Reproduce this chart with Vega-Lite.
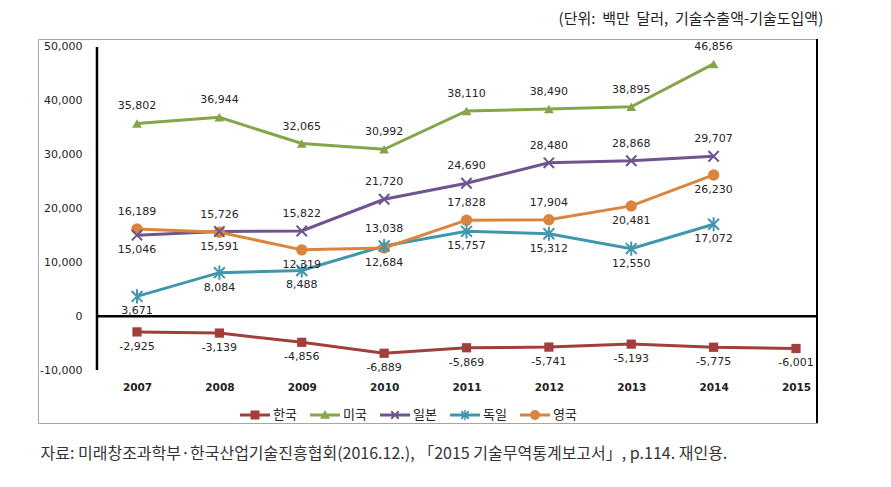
{
  "$schema": "https://vega.github.io/schema/vega-lite/v6.json",
  "width": 779,
  "height": 384,
  "autosize": {"type": "none"},
  "padding": {"left": 38, "top": 39, "right": 74, "bottom": 64},
  "config": {
    "view": {"stroke": "#A6A6A6", "strokeWidth": 1},
    "font": "DejaVu Sans",
    "locale": {"number": {"decimal": ".", "thousands": ",", "grouping": [3], "currency": ["", ""], "minus": "-"}}
  },
  "title": {
    "text": "(단위:\u00a0 백만\u00a0 달러,\u00a0 기술수출액-기술도입액)",
    "anchor": "end",
    "font": "Noto Sans CJK KR",
    "fontSize": 15,
    "fontWeight": "normal",
    "color": "#222222",
    "offset": 11,
    "dx": 5
  },
  "datasets": {
    "trade": [
      {"country": "한국", "year": 2007, "value": -2925},
      {"country": "한국", "year": 2008, "value": -3139},
      {"country": "한국", "year": 2009, "value": -4856},
      {"country": "한국", "year": 2010, "value": -6889},
      {"country": "한국", "year": 2011, "value": -5869},
      {"country": "한국", "year": 2012, "value": -5741},
      {"country": "한국", "year": 2013, "value": -5193},
      {"country": "한국", "year": 2014, "value": -5775},
      {"country": "한국", "year": 2015, "value": -6001},
      {"country": "미국", "year": 2007, "value": 35802},
      {"country": "미국", "year": 2008, "value": 36944},
      {"country": "미국", "year": 2009, "value": 32065},
      {"country": "미국", "year": 2010, "value": 30992},
      {"country": "미국", "year": 2011, "value": 38110},
      {"country": "미국", "year": 2012, "value": 38490},
      {"country": "미국", "year": 2013, "value": 38895},
      {"country": "미국", "year": 2014, "value": 46856},
      {"country": "일본", "year": 2007, "value": 15046},
      {"country": "일본", "year": 2008, "value": 15726},
      {"country": "일본", "year": 2009, "value": 15822},
      {"country": "일본", "year": 2010, "value": 21720},
      {"country": "일본", "year": 2011, "value": 24690},
      {"country": "일본", "year": 2012, "value": 28480},
      {"country": "일본", "year": 2013, "value": 28868},
      {"country": "일본", "year": 2014, "value": 29707},
      {"country": "독일", "year": 2007, "value": 3671},
      {"country": "독일", "year": 2008, "value": 8084},
      {"country": "독일", "year": 2009, "value": 8488},
      {"country": "독일", "year": 2010, "value": 13038},
      {"country": "독일", "year": 2011, "value": 15757},
      {"country": "독일", "year": 2012, "value": 15312},
      {"country": "독일", "year": 2013, "value": 12550},
      {"country": "독일", "year": 2014, "value": 17072},
      {"country": "영국", "year": 2007, "value": 16189},
      {"country": "영국", "year": 2008, "value": 15591},
      {"country": "영국", "year": 2009, "value": 12319},
      {"country": "영국", "year": 2010, "value": 12684},
      {"country": "영국", "year": 2011, "value": 17828},
      {"country": "영국", "year": 2012, "value": 17904},
      {"country": "영국", "year": 2013, "value": 20481},
      {"country": "영국", "year": 2014, "value": 26230}
    ]
  },
  "data": {"name": "trade"},
  "layer": [
    {
      "layer": [
        {
          "mark": {"type": "line", "strokeWidth": 3},
          "encoding": {
            "x": {
              "field": "year", "type": "quantitative",
              "scale": {"domain": [2005.798, 2015.255], "nice": false, "zero": false},
              "axis": {
                "values": [2007, 2008, 2009, 2010, 2011, 2012, 2013, 2014, 2015],
                "format": "d",
                "orient": "bottom",
                "domain": false,
                "ticks": false,
                "grid": false,
                "labelFont": "DejaVu Sans",
                "labelFontSize": 10.5,
                "labelFontWeight": "bold",
                "labelColor": "#222222",
                "labelBaseline": "top",
                "labelPadding": -41,
                "labelFlush": false,
                "labelOverlap": false,
                "title": "자료: 미래창조과학부·한국산업기술진흥협회(2016.12.), 「2015 기술무역통계보고서」, p.114. 재인용.",
                "titleFont": "Noto Sans CJK KR",
                "titleFontSize": 16,
                "titleFontWeight": "normal",
                "titleColor": "#333333",
                "titleAnchor": "start",
                "titleAlign": "left",
                "titleBaseline": "top",
                "titleX": 2,
                "titleY": 22
              }
            },
            "y": {
              "field": "value", "type": "quantitative",
              "scale": {"domain": [-19845, 51486], "nice": false, "zero": false},
              "axis": {
                "values": [-10000, 0, 10000, 20000, 30000, 40000, 50000],
                "format": ",d",
                "orient": "left",
                "domain": false,
                "ticks": false,
                "grid": false,
                "labelFont": "DejaVu Sans",
                "labelFontSize": 11,
                "labelColor": "#222222",
                "labelAlign": "right",
                "labelBaseline": "middle",
                "labelPadding": -44,
                "labelFlush": false,
                "labelOverlap": false,
                "title": null
              }
            },
            "color": {
              "field": "country", "type": "nominal",
              "scale": {"domain": ["한국", "미국", "일본", "독일", "영국"], "range": ["#A23E3C", "#86A44A", "#6F548F", "#3F97AE", "#DB843D"]},
              "legend": null
            }
          }
        },
        {
          "data": {"values": [{}]},
          "mark": {"type": "rule", "color": "#000000", "strokeWidth": 2.5},
          "encoding": {
            "x": {"datum": 2006.514, "type": "quantitative", "scale": {"domain": [2005.798, 2015.255], "nice": false, "zero": false}},
            "y": {"datum": -10000, "type": "quantitative", "scale": {"domain": [-19845, 51486], "nice": false, "zero": false}},
            "y2": {"datum": 50000}
          }
        },
        {
          "data": {"values": [{}]},
          "mark": {"type": "rule", "color": "#000000", "strokeWidth": 2.5},
          "encoding": {
            "x": {"datum": 2006.514, "type": "quantitative", "scale": {"domain": [2005.798, 2015.255], "nice": false, "zero": false}},
            "x2": {"datum": 2015.255},
            "y": {"datum": 0, "type": "quantitative", "scale": {"domain": [-19845, 51486], "nice": false, "zero": false}}
          }
        },
        {
          "data": {"values": [{}]},
          "mark": {"type": "rule", "color": "#000000", "strokeWidth": 2},
          "encoding": {
            "x": {"datum": 2015.255, "type": "quantitative", "scale": {"domain": [2005.798, 2015.255], "nice": false, "zero": false}},
            "y": {"datum": -19845, "type": "quantitative", "scale": {"domain": [-19845, 51486], "nice": false, "zero": false}},
            "y2": {"datum": 51486}
          }
        },
        {
          "transform": [{"filter": "datum.country === '한국' || datum.country === '미국' || datum.country === '영국'"}],
          "mark": {"type": "point", "filled": true, "opacity": 1},
          "encoding": {
            "x": {"field": "year", "type": "quantitative", "scale": {"domain": [2005.798, 2015.255], "nice": false, "zero": false}},
            "y": {"field": "value", "type": "quantitative", "scale": {"domain": [-19845, 51486], "nice": false, "zero": false}},
            "color": {
              "field": "country", "type": "nominal",
              "scale": {"domain": ["한국", "미국", "일본", "독일", "영국"], "range": ["#A23E3C", "#86A44A", "#6F548F", "#3F97AE", "#DB843D"]},
              "legend": null
            },
            "shape": {
              "field": "country", "type": "nominal",
              "scale": {"domain": ["한국", "미국", "일본", "독일", "영국"], "range": ["square", "triangle-up", "M-1,-1L1,1M-1,1L1,-1", "M-1,-1L1,1M-1,1L1,-1M0,-1.3V1.3", "circle"]},
              "legend": null
            },
            "size": {
              "field": "country", "type": "nominal",
              "scale": {"domain": ["한국", "미국", "일본", "독일", "영국"], "range": [85, 130, 81, 81, 121]},
              "legend": null
            }
          }
        },
        {
          "transform": [{"filter": "datum.country === '일본' || datum.country === '독일'"}],
          "mark": {"type": "point", "filled": false, "opacity": 1, "strokeWidth": 2},
          "encoding": {
            "x": {"field": "year", "type": "quantitative", "scale": {"domain": [2005.798, 2015.255], "nice": false, "zero": false}},
            "y": {"field": "value", "type": "quantitative", "scale": {"domain": [-19845, 51486], "nice": false, "zero": false}},
            "color": {
              "field": "country", "type": "nominal",
              "scale": {"domain": ["한국", "미국", "일본", "독일", "영국"], "range": ["#A23E3C", "#86A44A", "#6F548F", "#3F97AE", "#DB843D"]},
              "legend": null
            },
            "shape": {
              "field": "country", "type": "nominal",
              "scale": {"domain": ["한국", "미국", "일본", "독일", "영국"], "range": ["square", "triangle-up", "M-1,-1L1,1M-1,1L1,-1", "M-1,-1L1,1M-1,1L1,-1M0,-1.3V1.3", "circle"]},
              "legend": null
            },
            "size": {
              "field": "country", "type": "nominal",
              "scale": {"domain": ["한국", "미국", "일본", "독일", "영국"], "range": [85, 130, 81, 81, 121]},
              "legend": null
            }
          }
        },
        {
          "transform": [{"filter": "!(datum.country === '한국' || (datum.country === '일본' && datum.year === 2007) || (datum.country === '독일' && datum.year !== 2010) || (datum.country === '영국' && datum.year !== 2007 && datum.year !== 2011 && datum.year !== 2012))"}],
          "mark": {"type": "text", "font": "DejaVu Sans", "fontSize": 11, "color": "#262626", "baseline": "middle", "align": "center", "dy": -17},
          "encoding": {
            "x": {"field": "year", "type": "quantitative", "scale": {"domain": [2005.798, 2015.255], "nice": false, "zero": false}},
            "y": {"field": "value", "type": "quantitative", "scale": {"domain": [-19845, 51486], "nice": false, "zero": false}},
            "text": {"field": "value", "type": "quantitative", "format": ","}
          }
        },
        {
          "transform": [{"filter": "datum.country === '한국' || (datum.country === '일본' && datum.year === 2007) || (datum.country === '독일' && datum.year !== 2010) || (datum.country === '영국' && datum.year !== 2007 && datum.year !== 2011 && datum.year !== 2012)"}],
          "mark": {"type": "text", "font": "DejaVu Sans", "fontSize": 11, "color": "#262626", "baseline": "middle", "align": "center", "dy": 15},
          "encoding": {
            "x": {"field": "year", "type": "quantitative", "scale": {"domain": [2005.798, 2015.255], "nice": false, "zero": false}},
            "y": {"field": "value", "type": "quantitative", "scale": {"domain": [-19845, 51486], "nice": false, "zero": false}},
            "text": {"field": "value", "type": "quantitative", "format": ","}
          }
        }
      ]
    },
    {
      "transform": [{"filter": "false"}],
      "mark": {"type": "point", "filled": true, "opacity": 1},
      "encoding": {
        "color": {
          "field": "country", "type": "nominal",
          "scale": {"domain": ["한국", "미국", "일본", "독일", "영국"], "range": ["#A23E3C", "#86A44A", "#6F548F", "#3F97AE", "#DB843D"]},
          "legend": {
            "orient": "none", "legendX": 202, "legendY": 361, "direction": "horizontal", "title": null,
            "symbolSize": 900, "symbolStrokeWidth": 0, "symbolOpacity": 1,
            "labelFont": "Noto Sans CJK KR", "labelFontSize": 13, "labelColor": "#222222",
            "labelOffset": 3, "columnPadding": 13, "padding": 0
          }
        },
        "shape": {
          "field": "country", "type": "nominal",
          "scale": {"domain": ["한국", "미국", "일본", "독일", "영국"], "range": [
            "M-1,-0.1H1V0.1H-1Z M-0.3,-0.3H0.3V0.3H-0.3Z",
            "M-1,-0.1H1V0.1H-1Z M0,-0.33L0.33,0.25H-0.33Z",
            "M-1,-0.1H1V0.1H-1Z M-0.292,-0.208L-0.208,-0.292L0.292,0.208L0.208,0.292Z M-0.208,0.292L-0.292,0.208L0.208,-0.292L0.292,-0.208Z",
            "M-1,-0.1H1V0.1H-1Z M-0.292,-0.208L-0.208,-0.292L0.292,0.208L0.208,0.292Z M-0.208,0.292L-0.292,0.208L0.208,-0.292L0.292,-0.208Z M-0.05,-0.33H0.05V0.33H-0.05Z",
            "M-1,-0.1H1V0.1H-1Z M-0.33,0A0.33,0.33 0 1,1 0.33,0A0.33,0.33 0 1,1 -0.33,0Z"
          ]},
          "legend": {
            "orient": "none", "legendX": 202, "legendY": 361, "direction": "horizontal", "title": null,
            "symbolSize": 900, "symbolStrokeWidth": 0, "symbolOpacity": 1,
            "labelFont": "Noto Sans CJK KR", "labelFontSize": 13, "labelColor": "#222222",
            "labelOffset": 3, "columnPadding": 13, "padding": 0
          }
        }
      }
    }
  ],
  "resolve": {
    "scale": {"color": "independent", "shape": "independent"},
    "legend": {"color": "independent", "shape": "independent"}
  }
}
